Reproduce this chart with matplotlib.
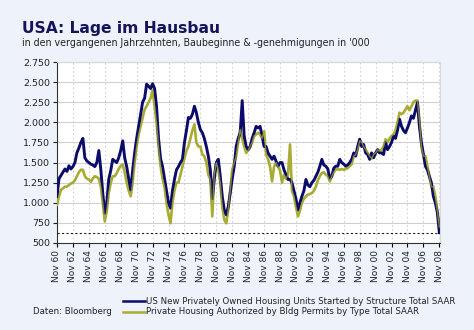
import matplotlib
matplotlib.use("Agg")
import matplotlib.pyplot as plt
import matplotlib.ticker as mticker
from matplotlib.lines import Line2D
import pandas as pd

# ---------------- data (quarterly, Nov 1960 .. Nov 2008, '000 SAAR) ----------------
# first value = Nov 1960, then per year: Feb, May, Aug, Nov
starts = [1080,
    1300, 1340, 1380, 1420,   # 61
    1390, 1460, 1420, 1450,   # 62
    1500, 1620, 1680, 1750,   # 63
    1800, 1560, 1520, 1500,   # 64
    1480, 1470, 1450, 1500,   # 65
    1650, 1420, 1120, 870,    # 66
    1000, 1290, 1400, 1540,   # 67
    1520, 1500, 1560, 1650,   # 68
    1770, 1560, 1450, 1300,   # 69
    1160, 1400, 1620, 1800,   # 70
    1950, 2100, 2250, 2300,   # 71
    2475, 2450, 2420, 2480,   # 72
    2420, 2200, 1800, 1550,   # 73
    1450, 1300, 1150, 1000,   # 74
    935, 1150, 1290, 1410,    # 75
    1450, 1500, 1540, 1750,   # 76
    1900, 2060, 2050, 2100,   # 77
    2200, 2120, 2000, 1910,   # 78
    1870, 1800, 1700, 1580,   # 79
    1410, 1050, 1300, 1500,   # 80
    1540, 1330, 1080, 910,    # 81
    850, 950, 1120, 1300,     # 82
    1455, 1700, 1800, 1870,   # 83
    2270, 1830, 1700, 1660,   # 84
    1700, 1800, 1870, 1950,   # 85
    1930, 1950, 1830, 1700,   # 86
    1700, 1620, 1580, 1540,   # 87
    1580, 1520, 1455, 1500,   # 88
    1500, 1410, 1350, 1290,   # 89
    1290, 1250, 1150, 1050,   # 90
    912, 1000, 1080, 1150,    # 91
    1290, 1220, 1200, 1250,   # 92
    1280, 1330, 1380, 1455,   # 93
    1540, 1470, 1455, 1420,   # 94
    1300, 1330, 1430, 1455,   # 95
    1455, 1540, 1500, 1480,   # 96
    1455, 1470, 1500, 1540,   # 97
    1620, 1580, 1700, 1790,   # 98
    1700, 1725, 1620, 1600,   # 99
    1540, 1620, 1560, 1620,   # 00
    1660, 1620, 1620, 1600,   # 01
    1750, 1660, 1700, 1750,   # 02
    1830, 1800, 1900, 2040,   # 03
    1950, 1900, 1870, 1930,   # 04
    2000, 2080, 2050, 2150,   # 05
    2250, 1950, 1750, 1600,   # 06
    1455, 1410, 1330, 1250,   # 07
    1080, 1000, 880, 630,     # 08
]
permits = [975,
    1080, 1160, 1180, 1200,   # 61
    1200, 1220, 1240, 1250,   # 62
    1280, 1330, 1380, 1410,   # 63
    1410, 1330, 1300, 1290,   # 64
    1260, 1300, 1330, 1320,   # 65
    1300, 1200, 1000, 767,    # 66
    900, 1120, 1250, 1330,    # 67
    1330, 1370, 1420, 1460,   # 68
    1475, 1380, 1250, 1150,   # 69
    1080, 1250, 1500, 1700,   # 70
    1850, 1950, 2050, 2160,   # 71
    2200, 2250, 2300, 2400,   # 72
    2200, 1995, 1700, 1455,   # 73
    1300, 1200, 1000, 850,    # 74
    745, 1000, 1150, 1250,    # 75
    1250, 1350, 1450, 1550,   # 76
    1650, 1700, 1800, 1900,   # 77
    1975, 1750, 1700, 1700,   # 78
    1600, 1580, 1500, 1350,   # 79
    1290, 830, 1350, 1500,    # 80
    1410, 1250, 950, 790,     # 81
    745, 910, 1150, 1410,     # 82
    1500, 1580, 1750, 1910,   # 83
    1800, 1700, 1620, 1650,   # 84
    1700, 1750, 1830, 1850,   # 85
    1870, 1850, 1800, 1890,   # 86
    1600, 1540, 1450, 1265,   # 87
    1450, 1500, 1450, 1400,   # 88
    1250, 1350, 1300, 1350,   # 89
    1725, 1150, 1080, 950,    # 90
    830, 900, 1000, 1050,     # 91
    1080, 1100, 1110, 1120,   # 92
    1150, 1200, 1280, 1330,   # 93
    1370, 1380, 1350, 1330,   # 94
    1265, 1330, 1380, 1410,   # 95
    1420, 1410, 1420, 1410,   # 96
    1420, 1430, 1455, 1480,   # 97
    1580, 1600, 1660, 1770,   # 98
    1750, 1700, 1660, 1620,   # 99
    1580, 1550, 1600, 1620,   # 00
    1660, 1640, 1660, 1700,   # 01
    1790, 1750, 1800, 1830,   # 02
    1850, 1900, 2000, 2120,   # 03
    2100, 2120, 2160, 2200,   # 04
    2150, 2200, 2250, 2270,   # 05
    2270, 2040, 1700, 1580,   # 06
    1580, 1455, 1330, 1200,   # 07
    1200, 1080, 900, 700,     # 08
]
start_date = "1960-11-01"
tick_years = list(range(1960, 2009, 2))
tick_labels = ["Nov %02d" % (y % 100) for y in tick_years]
y_ticks = list(range(500, 2751, 250))
ref_level = 630

label_starts = "US New Privately Owned Housing Units Started by Structure Total SAAR"
label_permits = "Private Housing Authorized by Bldg Permits by Type Total SAAR"
title = "USA: Lage im Hausbau"
subtitle = "in den vergangenen Jahrzehnten, Baubeginne & -genehmigungen in '000"
source = "Daten: Bloomberg"

# ---------------- plotting ----------------
BG = "#EEF2FA"
NAVY = "#0B0B6B"
OLIVE = "#A8AC35"

dates = pd.date_range(start_date, periods=len(starts), freq="3MS")

fig = plt.figure(figsize=(4.74, 3.30), dpi=100, facecolor=BG)
W, H = 474, 330
ax = fig.add_axes([57 / W, 1 - 243 / H, (440 - 57) / W, (243 - 62) / H])
ax.set_facecolor("white")

ax.plot(dates, permits, color=OLIVE, lw=1.9, zorder=3)
ax.plot(dates, starts, color=NAVY, lw=2.1, zorder=4)
ax.plot(dates, permits, color=OLIVE, lw=1.0, zorder=5, alpha=0.75)
ax.axhline(ref_level, color="#222222", lw=0.8, ls=(0, (2, 2)), zorder=6)

ax.set_ylim(500, 2750)
ax.set_xlim(pd.Timestamp(start_date), pd.Timestamp("2008-12-01"))
ax.set_yticks(y_ticks)
ax.yaxis.set_major_formatter(mticker.FuncFormatter(
    lambda v, p: ("{:,.0f}".format(v)).replace(",", ".")))
ticks = [pd.Timestamp("%d-11-01" % y) for y in tick_years]
ax.set_xticks(ticks)
ax.set_xticklabels(tick_labels, rotation=90, fontsize=6.5, color="#222222")
ax.tick_params(axis="y", labelsize=6.8, colors="#222222", length=3, width=0.8, pad=2)
ax.tick_params(axis="x", length=3, width=0.8, pad=2)

ax.grid(axis="y", color="#D0D0D0", lw=0.8, ls="-")
ax.grid(axis="x", color="#C8C8C8", lw=0.6, ls=(0, (2, 3)))
ax.set_axisbelow(True)
for s in ["top", "right"]:
    ax.spines[s].set_color("#D8D8D8")
for s in ["left", "bottom"]:
    ax.spines[s].set_color("#333333")
    ax.spines[s].set_linewidth(0.8)

fig.text(22 / W, 1 - 33 / H, title, fontsize=11.2, fontweight="bold",
         color="#14145A", va="baseline", ha="left")
fig.text(22 / W, 1 - 46 / H, subtitle, fontsize=6.85, color="#222222",
         va="baseline", ha="left")

# legend
for yy, col, lab in [(301, NAVY, label_starts), (312, OLIVE, label_permits)]:
    fig.add_artist(Line2D([123 / W, 145 / W], [1 - yy / H, 1 - yy / H],
                          color=col, lw=1.8, transform=fig.transFigure))
    fig.text(146 / W, 1 - yy / H, lab, fontsize=6.2, color="#222222",
             va="center", ha="left")
fig.text(33 / W, 1 - 312 / H, source, fontsize=6.2, color="#222222",
         va="center", ha="left")

fig.savefig("out.png", dpi=100, facecolor=BG)
